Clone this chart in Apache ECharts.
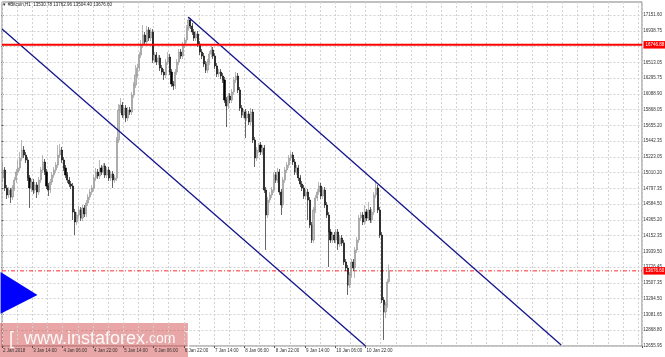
<!DOCTYPE html>
<html><head><meta charset="utf-8">
<script src="https://cdn.jsdelivr.net/npm/echarts@6/dist/echarts.min.js"></script>
<style>html,body{margin:0;padding:0;background:#fff}#c{width:665px;height:357px}</style>
</head><body><div id="c"></div>
<script>
// x-axis tick labels (every 16 hourly bars)
const tickLabels = ['2 Jan 2018','3 Jan 14:00','4 Jan 06:00','4 Jan 22:00','5 Jan 14:00','6 Jan 06:00','6 Jan 22:00','7 Jan 14:00','8 Jan 06:00','8 Jan 22:00','9 Jan 14:00','10 Jan 06:00','10 Jan 22:00'];
// price scale labels, bottom to top
const priceLabels = ['12655.95','12868.80','13081.65','13294.50','13507.35','13726.45','13939.50','14152.35','14365.20','14584.50','14797.35','15010.20','15223.05','15442.35','15655.20','15868.05','16088.90','16295.75','16513.05','16725.90','16938.75','17151.60'];
const priceMin = 12655.95, priceMax = 17328.2;
const slotCount = 338;
// H1 candles: [open, close, low, high]
const candles = [
[14938,15046,14883,15155],[15046,14802,14761,15087],[14802,14707,14652,14843],[14707,14775,14666,14815],[14775,14680,14598,14802],
[14680,14802,14639,14843],[14802,14910,14761,14951],[14910,15019,14870,15060],[15019,15074,14978,15182],[15074,15209,15033,15291],
[15209,15318,15169,15454],[15318,15250,15209,15372],[15250,15182,15141,15291],[15182,14938,14897,15223],[14938,14802,14530,14978],
[14802,14883,14747,14924],[14883,14775,14720,14924],[14775,14843,14734,14883],[14843,14747,14666,14883],[14747,14910,14707,14951],
[14910,15046,14870,15087],[15046,15155,15006,15250],[15155,15019,14978,15196],[15019,14829,14788,15060],[14829,14775,14693,14870],
[14775,14883,14734,14924],[14883,14978,14843,15019],[14978,15046,14938,15087],[15046,15114,15006,15155],[15114,15250,15074,15386],
[15250,15318,15209,15400],[15318,15182,15141,15359],[15182,15074,15033,15223],[15074,14978,14938,15114],[14978,14910,14870,15019],
[14910,14856,14815,14951],[14856,14829,14788,14897],[14829,14476,14367,14870],[14476,14340,14163,14517],[14340,14435,14299,14476],
[14435,14503,14394,14557],[14503,14394,14354,14544],[14394,14530,14354,14571],[14530,14449,14408,14571],[14449,14598,14408,14639],
[14598,14680,14557,14720],[14680,14747,14639,14788],[14747,14802,14707,14843],[14802,14938,14761,14978],[14938,15019,14897,15074],
[15019,14965,14924,15060],[14965,15074,14924,15182],[15074,15019,14978,15114],[15019,15101,14978,15141],[15101,14978,14938,15141],
[14978,15046,14938,15087],[15046,14938,14897,15087],[14938,14992,14897,15033],[14992,14910,14802,15033],[14910,14938,14870,14978],
[14938,15454,14897,15494],[15454,15861,15413,15943],[15861,15929,15821,16024],[15929,15793,15753,15970],[15793,15888,15753,15929],
[15888,15753,15698,15929],[15753,15861,15712,15902],[15861,15834,15793,15902],[15834,16065,15793,16106],[16065,16201,16024,16241],
[16201,16337,16160,16472],[16337,16432,16296,16486],[16432,16608,16391,16649],[16608,16744,16568,16812],[16744,16880,16703,17016],
[16880,16785,16744,16921],[16785,16948,16744,17002],[16948,16839,16798,16989],[16839,16921,16798,16975],[16921,16540,16500,16961],
[16540,16608,16500,16649],[16608,16513,16472,16649],[16513,16568,16472,16608],[16568,16432,16391,16608],[16432,16377,16337,16472],
[16377,16337,16269,16418],[16337,16513,16296,16554],[16513,16581,16472,16649],[16581,16377,16337,16622],[16377,16214,16174,16418],
[16214,16187,16133,16255],[16187,16377,16147,16418],[16377,16513,16337,16554],[16513,16649,16472,16690],[16649,16594,16554,16690],
[16594,16744,16554,16785],[16744,16812,16703,16853],[16812,16975,16771,17016],[16975,17084,16934,17124],[17084,17002,16961,17111],
[17002,16921,16880,17043],[16921,16839,16798,16961],[16839,16893,16798,16934],[16893,16758,16717,16934],[16758,16649,16608,16798],
[16649,16594,16554,16690],[16594,16486,16445,16635],[16486,16404,16364,16527],[16404,16513,16364,16554],[16513,16622,16472,16663],
[16622,16676,16581,16730],[16676,16594,16554,16717],[16594,16459,16418,16635],[16459,16351,16310,16500],[16351,16377,16310,16418],
[16377,16323,16282,16418],[16323,16269,16228,16364],[16269,15997,15956,16310],[15997,15916,15630,16038],[15916,16051,15875,16092],
[16051,15997,15956,16092],[15997,16106,15956,16147],[16106,16269,16065,16310],[16269,16323,16228,16377],[16323,16133,16092,16364],
[16133,15888,15848,16174],[15888,15793,15753,15929],[15793,15834,15753,15875],[15834,15753,15481,15875],[15753,15807,15712,15848],
[15807,15698,15658,15848],[15698,15834,15658,15888],[15834,15454,15413,15875],[15454,15209,15087,15494],[15209,15318,15169,15359],
[15318,15386,15277,15413],[15386,15291,15250,15427],[15291,15345,15250,15386],[15345,14775,14734,15386],[14775,14435,13960,14815],
[14435,14639,14394,14680],[14639,14707,14598,14747],[14707,14775,14666,14815],[14775,14978,14734,15019],[14978,14910,14870,15019],
[14910,15019,14870,15074],[15019,14747,14707,15060],[14747,14571,14435,14788],[14571,14910,14530,14951],[14910,15046,14870,15087],
[15046,15114,15006,15155],[15114,15209,15074,15250],[15209,15250,15169,15291],[15250,15155,15114,15291],[15155,15019,14978,15196],
[15019,15074,14978,15114],[15074,14938,14897,15114],[14938,14856,14815,14978],[14856,14802,14761,14897],[14802,14693,14652,14843],
[14693,14747,14652,14788],[14747,14639,14367,14788],[14639,14299,14258,14680],[14299,14096,14055,14340],[14096,14503,14055,14544],
[14503,14666,14462,14707],[14666,14747,14625,14788],[14747,14829,14707,14883],[14829,14693,14652,14870],[14693,14775,14652,14815],
[14775,14571,14530,14815],[14571,14435,14394,14612],[14435,14204,13729,14476],[14204,14096,14055,14245],[14096,14163,14055,14204],
[14163,14096,14055,14204],[14096,14204,14055,14245],[14204,14041,13960,14245],[14041,14123,14000,14163],[14123,14055,14014,14163],
[14055,13797,13756,14096],[13797,13715,13674,13838],[13715,13484,13349,13756],[13484,13620,13444,13661],[13620,13797,13580,13838],
[13797,13715,13674,13838],[13715,13960,13580,14000],[13960,14096,13919,14137],[14096,14394,14055,14435],[14394,14435,14354,14476],
[14435,14340,14299,14476],[14340,14476,14299,14571],[14476,14394,14354,14517],[14394,14503,14354,14612],[14503,14367,14326,14544],
[14367,14476,14326,14517],[14476,14707,14435,14747],[14707,14802,14666,14910],[14802,14503,14462,14843],[14503,14163,14123,14544],
[14163,13281,13240,14204],[13281,13118,12737,13321],[13118,13213,13036,13254],[13213,13525,13172,13566],[13530.78,13676.60,13504.40,13762.96]
];
const resistance = 16746.88;
const lastClose = 13676.60;
// channel lines in [slot position, price]
const lowerChannel = [[0,16961],[192,12656]];
const upperChannel = [[98.3,17124],[295.3,12670]];
const arrowPts = [[-0.8,13661],[18.7,13349],[-0.8,13094]];
const header = '\u25BC #Bitcoin,H1  13530.78 13762.96 13504.40 13676.60';

const slots = [];
for (let i = 0; i < slotCount; i++) slots.push(String(i));
const FONT = 'Liberation Sans, Arial, sans-serif';
const chart = echarts.init(document.getElementById('c'), null, {renderer: 'canvas'});
const dash = {color: '#d2d2d2', width: 1, type: [2, 2]};
const levelLabel = (v) => ({show: true, distance: 1.5, formatter: v.toFixed(2), color: '#fff', backgroundColor: '#f00',
  fontSize: 4.5, fontFamily: FONT, padding: [1.5, 4, 1, 2]});
const option = {
  animation: false,
  backgroundColor: '#fff',
  grid: [
    {left: 1.5, right: 23, top: 2, bottom: 11, show: true, borderColor: '#808080', borderWidth: 1, containLabel: false},
    {left: 1.5, right: 23, top: 15, bottom: 11, show: false, containLabel: false}
  ],
  xAxis: [
    {type: 'category', gridIndex: 0, data: slots, boundaryGap: true, z: 10,
     axisLine: {show: false},
     axisTick: {show: true, length: 2, lineStyle: {color: '#555'}, interval: (i) => i % 16 === 0 && i / 16 < tickLabels.length},
     axisLabel: {show: true, interval: 15, align: 'left', margin: 2.5, fontSize: 4.5, fontFamily: FONT, color: '#333',
       formatter: (v, i) => tickLabels[i / 16] || ''},
     splitLine: {show: true, interval: 7, lineStyle: dash}},
    {type: 'value', gridIndex: 0, min: 0, max: slotCount, show: false},
    {type: 'value', gridIndex: 1, min: 0, max: 1, show: false}
  ],
  yAxis: [
    {type: 'value', gridIndex: 0, min: priceMin, max: priceMax, show: false, splitLine: {show: false}},
    {type: 'category', gridIndex: 1, position: 'right', data: priceLabels, boundaryGap: false,
     axisLine: {show: false},
     axisTick: {show: true, length: 2, lineStyle: {color: '#555'}},
     axisLabel: {show: true, margin: 3, fontSize: 4.5, fontFamily: FONT, color: '#333'},
     splitLine: {show: true, lineStyle: dash}}
  ],
  series: [
    {type: 'candlestick', xAxisIndex: 0, yAxisIndex: 0, data: candles, barWidth: 1.6, z: 12,
     itemStyle: {color: '#bdbdbd', color0: '#000', borderColor: '#8a8a8a', borderColor0: '#000', borderWidth: 0.6}},
    {type: 'line', xAxisIndex: 1, yAxisIndex: 0, data: lowerChannel, symbol: 'none', lineStyle: {color: '#14148c', width: 1.3}, z: 13},
    {type: 'line', xAxisIndex: 1, yAxisIndex: 0, data: upperChannel, symbol: 'none', lineStyle: {color: '#14148c', width: 1.3}, z: 13},
    {type: 'line', xAxisIndex: 1, yAxisIndex: 0, data: [[0, resistance], [slotCount, resistance]], symbol: 'none', z: 14,
     lineStyle: {color: '#ff0000', width: 2, type: 'solid'}, endLabel: levelLabel(resistance)},
    {type: 'line', xAxisIndex: 1, yAxisIndex: 0, data: [[0, lastClose], [slotCount, lastClose]], symbol: 'none', z: 11,
     lineStyle: {color: '#ff2a2a', width: 1, type: [4, 2, 1, 2]}, endLabel: levelLabel(lastClose)}
  ]
};
chart.setOption(option);
const pts = arrowPts.map(p => chart.convertToPixel({seriesIndex: 1}, p));
chart.setOption({
  graphic: [
    {type: 'polygon', shape: {points: pts}, style: {fill: '#0000ff'}, z: 50},
    {type: 'rect', shape: {x: 0, y: 323, width: 188, height: 34}, style: {fill: 'rgba(210,70,70,0.48)'}, z: 5},
    {type: 'text', x: 9, y: 348, z: 6, style: {
      text: '{a|[  www.instaforex}{b|.com}{a|  ]}', textVerticalAlign: 'bottom', fill: 'rgba(255,255,255,0.92)',
      rich: {a: {fontSize: 18, fontFamily: FONT, fill: 'rgba(255,255,255,0.92)'}, b: {fontSize: 14, fontFamily: FONT, fill: 'rgba(255,255,255,0.92)'}}}},
    {type: 'text', x: 2, y: 2.5, z: 50, style: {text: header, fontSize: 4.5, fontFamily: FONT, fill: '#222'}}
  ]
});
</script></body></html>
